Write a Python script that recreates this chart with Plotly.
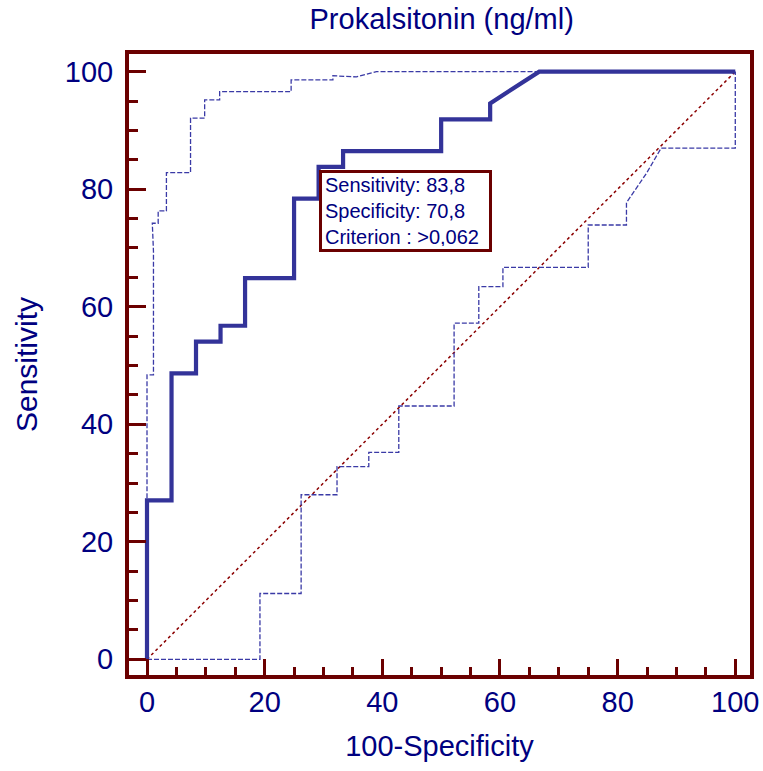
import plotly.graph_objects as go

# ROC curve (100-Specificity, Sensitivity)
roc_x = [0, 0, 4.17, 4.17, 8.33, 8.33, 12.5, 12.5, 16.67, 16.67, 25.0, 25.0, 29.17, 29.17,
         33.33, 33.33, 50.0, 50.0, 58.33, 58.33, 66.67, 100]
roc_y = [0, 27.03, 27.03, 48.65, 48.65, 54.05, 54.05, 56.76, 56.76, 64.86, 64.86, 78.38, 78.38, 83.78,
         83.78, 86.49, 86.49, 91.89, 91.89, 94.59, 100, 100]

# Upper confidence bound
up_x = [0, 0, 1.1, 1.1, 0.9, 1.9, 1.9, 3.3, 3.3, 7.4, 7.4, 9.8, 9.8, 12.35, 12.35, 24.5, 24.5,
        31.6, 31.6, 35.6, 39.0, 100]
up_y = [0, 48.4, 48.4, 69.4, 74.2, 74.2, 76.3, 76.3, 82.8, 82.8, 92.1, 92.1, 95.2, 95.2, 96.6, 96.6, 98.6,
        98.6, 99.3, 99.1, 100, 100]

# Lower confidence bound
lo_x = [0, 19.2, 19.2, 26.2, 26.2, 32.3, 32.3, 37.7, 37.7, 42.8, 42.8, 52.2, 52.2, 56.4, 56.4,
        60.5, 60.5, 75.0, 75.0, 81.5, 81.5, 84.9, 87.4, 100, 100]
lo_y = [0, 0, 11.2, 11.2, 28.0, 28.0, 32.8, 32.8, 35.2, 35.2, 43.1, 43.1, 57.2, 57.2, 63.4,
        63.4, 66.7, 66.7, 73.9, 73.9, 77.7, 82.7, 87.0, 87.0, 100]

# Reference diagonal
diag_x = [0, 100]
diag_y = [0, 100]

# Criterion point
crit_x = 29.17
crit_y = 83.78
crit_lines = ["Sensitivity: 83,8", "Specificity: 70,8", "Criterion : &gt;0,062"]

tick_vals = [0, 20, 40, 60, 80, 100]

FRAME = "#6b0000"
NAVY = "#000080"
BLUE = "#333399"
FONT = "Arial, Liberation Sans, sans-serif"

fig = go.Figure()
fig.add_trace(go.Scatter(x=diag_x, y=diag_y, mode="lines",
                         line=dict(color="#8b0000", width=1.5, dash="dot"), hoverinfo="skip"))
fig.add_trace(go.Scatter(x=lo_x, y=lo_y, mode="lines",
                         line=dict(color="#3a3aa6", width=1.3, dash="5px,2px")))
fig.add_trace(go.Scatter(x=up_x, y=up_y, mode="lines",
                         line=dict(color="#3a3aa6", width=1.3, dash="5px,2px")))
fig.add_trace(go.Scatter(x=roc_x, y=roc_y, mode="lines",
                         line=dict(color=BLUE, width=4.2)))

fig.add_annotation(x=crit_x, y=crit_y, xref="x", yref="y",
                   text="<br>".join(crit_lines), showarrow=False,
                   xanchor="left", yanchor="top", align="left",
                   yshift=-3, width=161, height=70,
                   font=dict(family=FONT, size=20, color=NAVY),
                   bgcolor="white", bordercolor=FRAME, borderwidth=3, borderpad=3)

axis_common = dict(showline=True, linewidth=4, linecolor=FRAME, mirror=True,
                   showgrid=False, zeroline=False, ticks="inside", tickwidth=2.5,
                   tickcolor=FRAME, tickvals=tick_vals,
                   tickfont=dict(family=FONT, size=29, color=NAVY))

fig.update_xaxes(**axis_common, range=[-3.06, 102.5], ticklen=16,
                 minor=dict(ticks="inside", ticklen=8, dtick=5, tick0=0, tickwidth=2.5, tickcolor=FRAME),
                 ticklabelstandoff=-2,
                 title=dict(text="100-Specificity", font=dict(family=FONT, size=29, color=NAVY), standoff=20))
fig.update_yaxes(**axis_common, range=[-2.67, 103.0], ticklen=17,
                 minor=dict(ticks="inside", ticklen=9, dtick=5, tick0=0, tickwidth=2.5, tickcolor=FRAME),
                 ticklabelstandoff=6,
                 title=dict(text="Sensitivity", font=dict(family=FONT, size=30, color=NAVY), standoff=19))

fig.update_layout(
    width=763, height=771,
    margin=dict(l=129, r=13, t=54, b=96, autoexpand=False),
    paper_bgcolor="white", plot_bgcolor="white",
    showlegend=False,
    title=dict(text="Prokalsitonin (ng/ml)", font=dict(family=FONT, size=29, color=NAVY),
               xref="container", x=441.7 / 763, xanchor="center",
               yref="container", y=1 - 19 / 771, yanchor="middle"),
)

fig.write_html("out.html")
